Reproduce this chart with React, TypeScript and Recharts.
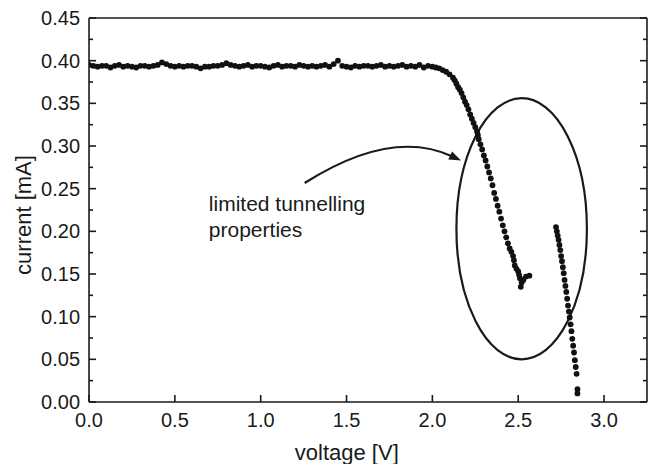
import { ScatterChart, Scatter, XAxis, YAxis, ReferenceArea, ReferenceDot } from "recharts";

// flat part of the I-V curve
const flatVoltage = [
  0.0, 0.025, 0.05, 0.075, 0.1, 0.125, 0.15, 0.175, 0.2, 0.225, 0.25, 0.275, 0.3, 0.325, 0.35, 0.375,
  0.4, 0.425, 0.45, 0.475, 0.5, 0.525, 0.55, 0.575, 0.6, 0.625, 0.65, 0.675, 0.7, 0.725, 0.75, 0.775,
  0.8, 0.825, 0.85, 0.875, 0.9, 0.925, 0.95, 0.975, 1.0, 1.025, 1.05, 1.075, 1.1, 1.125, 1.15, 1.175,
  1.2, 1.225, 1.25, 1.275, 1.3, 1.325, 1.35, 1.375, 1.4, 1.425, 1.45, 1.475, 1.5, 1.525, 1.55, 1.575,
  1.6, 1.625, 1.65, 1.675, 1.7, 1.725, 1.75, 1.775, 1.8, 1.825, 1.85, 1.875, 1.9, 1.925, 1.95, 1.975, 2.0,
];
const flatCurrent = [
  0.395, 0.394, 0.393, 0.394, 0.394, 0.392, 0.394, 0.395, 0.393, 0.394, 0.393, 0.392, 0.394, 0.394, 0.393, 0.394,
  0.395, 0.398, 0.396, 0.394, 0.393, 0.394, 0.393, 0.394, 0.394, 0.393, 0.391, 0.393, 0.393, 0.394, 0.394, 0.395,
  0.397, 0.395, 0.394, 0.393, 0.394, 0.395, 0.393, 0.394, 0.394, 0.393, 0.392, 0.394, 0.395, 0.393, 0.394, 0.394,
  0.393, 0.395, 0.394, 0.393, 0.394, 0.393, 0.394, 0.395, 0.393, 0.396, 0.4, 0.394, 0.393, 0.392, 0.394, 0.393,
  0.394, 0.394, 0.393, 0.394, 0.395, 0.393, 0.394, 0.393, 0.394, 0.395, 0.393, 0.394, 0.393, 0.395, 0.392, 0.394, 0.393,
];

// first breakdown
const dropVoltage = [
  2.02, 2.04, 2.06, 2.08, 2.1, 2.12, 2.13, 2.14, 2.15, 2.16, 2.17, 2.18, 2.19, 2.2, 2.21, 2.22, 2.23, 2.24,
  2.25, 2.26, 2.265, 2.27, 2.28, 2.29, 2.3, 2.31, 2.32, 2.33, 2.34, 2.35, 2.36, 2.37, 2.38, 2.39, 2.4, 2.41,
  2.42, 2.43, 2.44, 2.45, 2.46, 2.47, 2.475, 2.48, 2.49, 2.5, 2.505, 2.51, 2.52, 2.515, 2.53, 2.545, 2.565,
];
const dropCurrent = [
  0.392, 0.391, 0.389, 0.387, 0.384, 0.38, 0.377, 0.373, 0.369, 0.366, 0.362, 0.357, 0.352, 0.348, 0.343, 0.337, 0.332, 0.327,
  0.322, 0.317, 0.313, 0.308, 0.302, 0.296, 0.289, 0.283, 0.276, 0.269, 0.262, 0.254, 0.245, 0.238, 0.23, 0.223, 0.215, 0.207,
  0.2, 0.193, 0.186, 0.18, 0.176, 0.171, 0.166, 0.16, 0.156, 0.153, 0.149, 0.145, 0.14, 0.135, 0.143, 0.147, 0.148,
];

// second branch
const tailVoltage = [
  2.72, 2.725, 2.73, 2.735, 2.74, 2.745, 2.75, 2.755, 2.76, 2.765, 2.77, 2.775, 2.78, 2.785,
  2.79, 2.795, 2.8, 2.805, 2.81, 2.815, 2.82, 2.825, 2.83, 2.835, 2.84, 2.845, 2.845,
];
const tailCurrent = [
  0.205, 0.2, 0.195, 0.19, 0.184, 0.178, 0.171, 0.165, 0.158, 0.151, 0.143, 0.136, 0.129, 0.121,
  0.113, 0.106, 0.099, 0.091, 0.083, 0.074, 0.066, 0.058, 0.049, 0.041, 0.033, 0.015, 0.01,
];

const xMajorTicks = [0, 0.5, 1, 1.5, 2, 2.5, 3];
const xMinorTicks = [0.25, 0.75, 1.25, 1.75, 2.25, 2.75];
const yMajorTicks = [0, 0.05, 0.1, 0.15, 0.2, 0.25, 0.3, 0.35, 0.4, 0.45];
const yMinorTicks = [0.025, 0.075, 0.125, 0.175, 0.225, 0.275, 0.325, 0.375, 0.425];

const points = [
  ...flatVoltage.map((v, i) => ({ v, i: flatCurrent[i] })),
  ...dropVoltage.map((v, i) => ({ v, i: dropCurrent[i] })),
  ...tailVoltage.map((v, i) => ({ v, i: tailCurrent[i] })),
];

// annotation placement (data units)
const ellipseBox = { x1: 2.14, x2: 2.9, y1: 0.05, y2: 0.356 };
const arrowStart = [1.256, 0.2566];
const arrowCtrl = [1.76, 0.321];
const arrowEnd = [2.167, 0.283];
const notePos = [0.698, 0.2238];

const FONT = "'Liberation Sans', Arial, sans-serif";
const INK = "#1a1a1a";
const X_DOMAIN = [0, 3.25];
const Y_DOMAIN = [0, 0.45];
const THIN = 0.01;
const GAP = 12; // tickMargin, used to get the axis position back inside custom ticks
const MAJOR = 7;
const MINOR = 4;

// inward tick marks (+ optional label); negative tickSize doesn't draw in recharts 3
function makeTick(side: "bottom" | "top" | "left" | "right", len: number, fmt?: (v: number) => string) {
  return (p: any) => {
    const { x, y, payload } = p;
    let line;
    let label = null;
    if (side === "bottom") {
      const ay = y - GAP;
      line = <line x1={x} x2={x} y1={ay} y2={ay - len} stroke={INK} strokeWidth={1.6} />;
      if (fmt)
        label = (
          <text x={x} y={ay + 25} textAnchor="middle" fontSize={20} fontFamily={FONT} fill={INK}>
            {fmt(payload.value)}
          </text>
        );
    } else if (side === "top") {
      const ay = y + GAP;
      line = <line x1={x} x2={x} y1={ay} y2={ay + len} stroke={INK} strokeWidth={1.6} />;
    } else if (side === "left") {
      const ax = x + GAP;
      line = <line x1={ax} x2={ax + len} y1={y} y2={y} stroke={INK} strokeWidth={1.6} />;
      if (fmt)
        label = (
          <text x={ax - 9} y={y + 7} textAnchor="end" fontSize={20} fontFamily={FONT} fill={INK}>
            {fmt(payload.value)}
          </text>
        );
    } else {
      const ax = x - GAP;
      line = <line x1={ax} x2={ax - len} y1={y} y2={y} stroke={INK} strokeWidth={1.6} />;
    }
    return (
      <g>
        {line}
        {label}
      </g>
    );
  };
}

function Arrow(p: any) {
  const { x, y, width, height } = p;
  const sx = x, sy = y + height;
  const ex = x + width, ey = y;
  const cx = x + ((arrowCtrl[0] - arrowStart[0]) / (arrowEnd[0] - arrowStart[0])) * width;
  const cy = y + height - ((arrowCtrl[1] - arrowStart[1]) / (arrowEnd[1] - arrowStart[1])) * height;
  const dx = ex - cx, dy = ey - cy;
  const len = Math.hypot(dx, dy);
  const ux = dx / len, uy = dy / len;
  const hl = 12, hw = 4.5;
  const bx = ex - ux * hl, by = ey - uy * hl;
  return (
    <g>
      <path d={`M${sx},${sy} Q${cx},${cy} ${bx + ux * 2},${by + uy * 2}`} fill="none" stroke={INK} strokeWidth={2.2} />
      <polygon
        points={`${ex},${ey} ${bx - uy * hw},${by + ux * hw} ${bx + uy * hw},${by - ux * hw}`}
        fill={INK}
      />
    </g>
  );
}

const common = { type: "number" as const, allowDataOverflow: true, interval: 0, tickLine: false, tickSize: 0, tickMargin: GAP };
const frame = { stroke: INK, strokeWidth: 1.6 };

export default function App() {
  return (
    <div style={{ position: "absolute", left: 0, top: 0, background: "#fff" }}>
      <ScatterChart width={662} height={464} margin={{ top: 18, right: 15, bottom: 62, left: 89 }}>
        <XAxis
          xAxisId="x"
          dataKey="v"
          domain={X_DOMAIN}
          ticks={xMajorTicks}
          height={THIN}
          {...common}
          tick={makeTick("bottom", MAJOR, (v) => v.toFixed(1))}
          axisLine={frame}
          label={(props: any) => {
            const vb = props.viewBox;
            return (
              <text x={vb.x + vb.width * 0.462} y={vb.y + 58} textAnchor="middle" fontSize={22} fontFamily={FONT} fill={INK}>
                voltage [V]
              </text>
            );
          }}
        />
        <XAxis xAxisId="xm" domain={X_DOMAIN} ticks={xMinorTicks} height={THIN} {...common}
          tick={makeTick("bottom", MINOR)} axisLine={false} />
        <XAxis xAxisId="xt" orientation="top" domain={X_DOMAIN} ticks={xMajorTicks} height={THIN} {...common}
          tick={makeTick("top", MAJOR)} axisLine={frame} />
        <XAxis xAxisId="xtm" orientation="top" domain={X_DOMAIN} ticks={xMinorTicks} height={THIN} {...common}
          tick={makeTick("top", MINOR)} axisLine={false} />

        <YAxis
          yAxisId="y"
          dataKey="i"
          domain={Y_DOMAIN}
          ticks={yMajorTicks}
          width={THIN}
          {...common}
          tick={makeTick("left", MAJOR, (v) => v.toFixed(2))}
          axisLine={frame}
          label={(props: any) => {
            const vb = props.viewBox;
            const lx = vb.x - 58;
            const ly = vb.y + vb.height / 2 + 5;
            return (
              <text x={lx} y={ly} transform={`rotate(-90, ${lx}, ${ly})`} textAnchor="middle" fontSize={22} fontFamily={FONT} fill={INK}>
                current [mA]
              </text>
            );
          }}
        />
        <YAxis yAxisId="ym" domain={Y_DOMAIN} ticks={yMinorTicks} width={THIN} {...common}
          tick={makeTick("left", MINOR)} axisLine={false} />
        <YAxis yAxisId="yr" orientation="right" domain={Y_DOMAIN} ticks={yMajorTicks} width={THIN} {...common}
          tick={makeTick("right", MAJOR)} axisLine={frame} />
        <YAxis yAxisId="yrm" orientation="right" domain={Y_DOMAIN} ticks={yMinorTicks} width={THIN} {...common}
          tick={makeTick("right", MINOR)} axisLine={false} />

        <Scatter
          xAxisId="x"
          yAxisId="y"
          data={points}
          isAnimationActive={false}
          shape={(p: any) => <circle cx={p.cx} cy={p.cy} r={2.9} fill="#111" />}
        />

        <ReferenceArea
          xAxisId="x"
          yAxisId="y"
          {...ellipseBox}
          ifOverflow="visible"
          shape={(p: any) => (
            <ellipse cx={p.x + p.width / 2} cy={p.y + p.height / 2} rx={p.width / 2} ry={p.height / 2}
              fill="none" stroke={INK} strokeWidth={2.2} />
          )}
        />
        <ReferenceArea
          xAxisId="x"
          yAxisId="y"
          x1={arrowStart[0]}
          x2={arrowEnd[0]}
          y1={arrowStart[1]}
          y2={arrowEnd[1]}
          ifOverflow="visible"
          shape={Arrow}
        />
        <ReferenceDot
          xAxisId="x"
          yAxisId="y"
          x={notePos[0]}
          y={notePos[1]}
          r={0}
          ifOverflow="visible"
          shape={(p: any) => (
            <text x={p.cx} y={p.cy} fontSize={21} fontFamily={FONT} fill={INK}>
              <tspan x={p.cx}>limited tunnelling</tspan>
              <tspan x={p.cx} dy={26}>properties</tspan>
            </text>
          )}
        />
      </ScatterChart>
    </div>
  );
}
